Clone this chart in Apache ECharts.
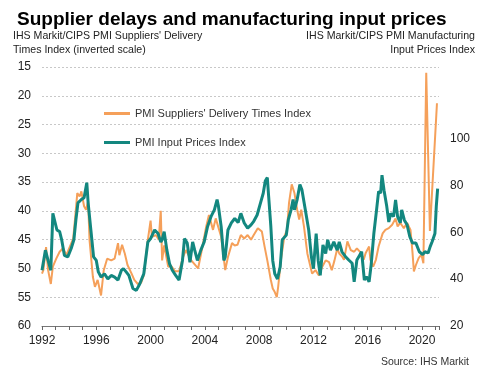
<!DOCTYPE html>
<html>
<head>
<meta charset="utf-8">
<script src="https://cdn.jsdelivr.net/npm/echarts@6/dist/echarts.min.js"></script>
<style>
html,body{margin:0;padding:0;background:#fff;}
#chart{width:482px;height:378px;}
</style>
</head>
<body>
<div id="chart"></div>
<script>
// [decimal year, index value]
const deliveryTimes = [
[1992.0,50.9],[1992.1,50.3],[1992.3,46.3],[1992.45,50.3],[1992.65,52.7],[1992.8,49.7],[1993.05,48.3],[1993.3,47.1],[1993.55,46.5],[1993.8,47.7],
[1994.0,46.5],[1994.3,44.8],[1994.45,41.0],[1994.6,36.9],[1994.77,37.5],[1994.9,36.6],[1995.1,39.2],[1995.25,39.8],[1995.4,38.3],[1995.5,45.0],
[1995.75,51.5],[1995.9,53.2],[1996.1,52.0],[1996.35,54.7],[1996.55,50.3],[1996.8,48.3],[1997.1,48.6],[1997.35,48.3],[1997.6,45.6],[1997.7,47.7],
[1997.9,45.9],[1998.1,47.4],[1998.3,49.4],[1998.6,50.9],[1998.8,52.0],[1999.06,52.7],[1999.3,52.5],[1999.5,51.2],[1999.8,45.0],[2000.0,41.7],
[2000.1,44.5],[2000.4,44.2],[2000.6,45.0],[2000.75,40.0],[2000.85,48.6],[2001.0,46.0],[2001.3,49.7],[2001.5,49.5],[2001.8,50.5],[2002.1,50.5],
[2002.4,48.0],[2002.6,46.8],[2003.0,48.6],[2003.5,50.0],[2003.8,46.5],[2004.1,42.7],[2004.3,40.7],[2004.6,43.3],[2004.8,41.3],[2005.2,44.5],
[2005.5,50.3],[2005.7,48.0],[2006.0,45.6],[2006.2,46.0],[2006.4,45.9],[2006.65,44.2],[2006.9,44.8],[2007.15,44.2],[2007.4,45.0],[2007.6,44.2],
[2007.9,43.0],[2008.2,43.6],[2008.4,46.2],[2008.6,48.6],[2008.86,52.0],[2009.0,53.5],[2009.15,54.1],[2009.3,55.0],[2009.4,53.2],[2009.6,48.6],
[2009.85,44.5],[2010.05,43.3],[2010.2,38.6],[2010.4,35.4],[2010.6,36.9],[2010.8,39.8],[2010.95,41.5],[2011.1,39.8],[2011.3,42.7],[2011.55,47.4],
[2011.75,49.4],[2011.9,50.9],[2012.15,50.3],[2012.4,51.2],[2012.65,49.7],[2012.9,48.6],[2013.15,48.9],[2013.35,50.3],[2013.55,48.6],[2013.76,46.5],
[2013.9,47.4],[2014.1,47.9],[2014.25,48.5],[2014.5,45.3],[2014.75,46.8],[2015.0,47.1],[2015.2,46.5],[2015.5,47.3],[2015.7,48.5],[2015.85,47.3],
[2016.1,46.2],[2016.2,48.5],[2016.4,49.7],[2016.6,48.5],[2016.8,46.2],[2017.1,43.9],[2017.3,43.3],[2017.55,43.0],[2017.8,42.4],[2018.05,41.3],
[2018.2,42.7],[2018.4,42.1],[2018.66,43.0],[2018.9,42.1],[2019.15,43.3],[2019.3,47.3],[2019.4,50.5],[2019.55,49.4],[2019.75,48.2],[2019.95,47.6],
[2020.1,49.1],[2020.31,16.0],[2020.58,43.5],[2021.1,21.3]
];
const inputPrices = [
[1992.0,43.8],[1992.25,52.4],[1992.45,48.0],[1992.65,43.8],[1992.8,68.1],[1992.9,67.4],[1993.1,61.0],[1993.3,60.3],[1993.45,56.8],[1993.65,50.2],
[1993.9,49.5],[1994.15,53.1],[1994.35,56.8],[1994.5,65.4],[1994.65,72.6],[1994.9,74.0],[1995.1,74.8],[1995.3,81.2],[1995.4,72.6],[1995.6,61.0],
[1995.8,49.5],[1996.0,48.0],[1996.15,43.1],[1996.35,40.9],[1996.6,42.3],[1996.85,40.1],[1997.1,41.6],[1997.35,40.9],[1997.6,39.6],[1997.85,43.8],
[1998.0,44.5],[1998.2,43.1],[1998.4,41.6],[1998.7,36.0],[1998.95,35.2],[1999.2,37.9],[1999.4,40.9],[1999.5,42.3],[1999.8,55.9],[2000.0,57.3],
[2000.3,61.0],[2000.55,59.5],[2000.75,55.9],[2000.85,56.8],[2001.0,60.3],[2001.2,52.4],[2001.4,46.5],[2001.6,43.8],[2001.85,41.6],[2002.1,39.6],
[2002.35,48.0],[2002.5,57.3],[2002.7,55.4],[2002.9,47.2],[2003.1,55.9],[2003.25,52.4],[2003.45,48.0],[2003.7,52.4],[2003.95,55.9],[2004.2,62.5],
[2004.45,66.7],[2004.7,69.6],[2004.9,74.0],[2005.0,71.1],[2005.2,62.5],[2005.4,48.0],[2005.5,49.5],[2005.7,61.0],[2005.95,64.0],[2006.2,65.9],
[2006.45,64.2],[2006.65,68.1],[2006.9,64.0],[2007.15,61.8],[2007.4,63.2],[2007.6,64.7],[2007.85,67.4],[2008.1,72.6],[2008.3,76.7],[2008.45,81.9],
[2008.6,83.4],[2008.7,75.3],[2008.86,62.5],[2009.0,48.0],[2009.15,42.3],[2009.35,40.1],[2009.55,45.3],[2009.7,56.8],[2010.0,58.8],[2010.15,65.4],
[2010.35,69.6],[2010.5,74.0],[2010.6,69.6],[2010.8,74.0],[2011.0,80.4],[2011.15,78.2],[2011.4,69.6],[2011.65,61.0],[2011.85,49.5],[2012.0,44.5],
[2012.2,59.5],[2012.35,48.0],[2012.5,41.6],[2012.7,54.6],[2012.9,50.9],[2013.05,56.8],[2013.25,52.4],[2013.5,55.9],[2013.75,52.4],[2013.9,55.9],
[2014.1,51.7],[2014.35,49.7],[2014.6,48.2],[2014.85,46.8],[2015.0,38.9],[2015.2,48.2],[2015.35,49.7],[2015.55,51.7],[2015.75,39.6],[2015.9,41.1],
[2016.1,38.9],[2016.25,46.0],[2016.45,59.5],[2016.65,69.6],[2016.8,77.5],[2016.95,76.7],[2017.05,84.4],[2017.2,78.0],[2017.4,71.1],[2017.55,64.4],
[2017.7,68.1],[2017.9,66.7],[2018.05,73.8],[2018.2,66.7],[2018.4,64.0],[2018.5,69.6],[2018.7,65.2],[2018.9,63.2],[2019.1,58.1],[2019.3,55.4],
[2019.55,55.4],[2019.8,51.7],[2020.05,50.5],[2020.2,51.7],[2020.45,51.2],[2020.6,53.9],[2020.75,56.1],[2020.95,59.5],[2021.05,71.1],[2021.15,78.7]
];
const seriesNames = ["PMI Suppliers' Delivery Times Index", "PMI Input Prices Index"];
const rightTicks = [20, 40, 60, 80, 100];

const FONT = 'Liberation Sans, Arial, sans-serif';
const chart = echarts.init(document.getElementById('chart'), null, {renderer: 'canvas'});
chart.setOption({
  animation: false,
  backgroundColor: '#fff',
  title: {
    text: 'Supplier delays and manufacturing input prices',
    left: 12, top: 5,
    textStyle: {fontFamily: FONT, fontSize: 19, fontWeight: 'bold', color: '#000'}
  },
  graphic: [
    {type: 'text', left: 13, top: 31, style: {text: "IHS Markit/CIPS PMI Suppliers' Delivery", font: '10.6px ' + FONT, fill: '#222'}},
    {type: 'text', left: 13, top: 44.5, style: {text: "Times Index (inverted scale)", font: '10.6px ' + FONT, fill: '#222'}},
    {type: 'text', right: 7, top: 31, style: {text: 'IHS Markit/CIPS PMI Manufacturing', font: '10.6px ' + FONT, fill: '#222'}},
    {type: 'text', right: 7, top: 44.5, style: {text: 'Input Prices Index', font: '10.6px ' + FONT, fill: '#222'}},
    {type: 'text', right: 13, top: 357, style: {text: 'Source: IHS Markit', font: '10.5px ' + FONT, fill: '#333'}}
  ],
  legend: {
    orient: 'vertical', left: 99, top: 103,
    itemWidth: 26, itemHeight: 3, itemGap: 18,
    icon: 'rect',
    data: seriesNames,
    textStyle: {fontFamily: FONT, fontSize: 11, color: '#333'}
  },
  grid: {left: 42, right: 43, top: 67, bottom: 52, containLabel: false},
  xAxis: {
    type: 'value', min: 1992, max: 2021.25, interval: 4,
    axisLine: {show: true, onZero: false, lineStyle: {color: '#777', width: 1}},
    axisTick: {show: true, inside: false, length: 4, lineStyle: {color: '#666', width: 1}},
    minorTick: {show: true, splitNumber: 4, length: 4, lineStyle: {color: '#666', width: 1}},
    axisLabel: {margin: 9, fontFamily: FONT, fontSize: 12, color: '#222',
      formatter: v => (Math.abs(v - Math.round(v)) < 1e-6 && Math.round(v) % 4 === 0) ? String(Math.round(v)) : ''},
    splitLine: {show: false}
  },
  yAxis: [
    {
      type: 'value', inverse: true, min: 15, max: 60, interval: 5, position: 'left',
      axisLine: {show: false}, axisTick: {show: false},
      axisLabel: {margin: 11, fontFamily: FONT, fontSize: 12, color: '#222'},
      splitLine: {show: true, lineStyle: {color: '#c8c8c8', type: [2, 2], width: 1}}
    },
    {
      type: 'value', min: 20, max: 130.6, position: 'right',
      axisLine: {show: false}, axisTick: {show: false},
      axisLabel: {customValues: rightTicks, margin: 11, fontFamily: FONT, fontSize: 12, color: '#222'},
      splitLine: {show: false}
    }
  ],
  series: [
    {
      name: seriesNames[0], type: 'line', yAxisIndex: 0, data: deliveryTimes,
      symbol: 'none', lineStyle: {color: '#F5A05A', width: 2}, itemStyle: {color: '#F5A05A'}, z: 2
    },
    {
      name: seriesNames[1], type: 'line', yAxisIndex: 1, data: inputPrices,
      symbol: 'none', lineStyle: {color: '#13877F', width: 3}, itemStyle: {color: '#13877F'}, z: 3
    }
  ]
});
</script>
</body>
</html>
